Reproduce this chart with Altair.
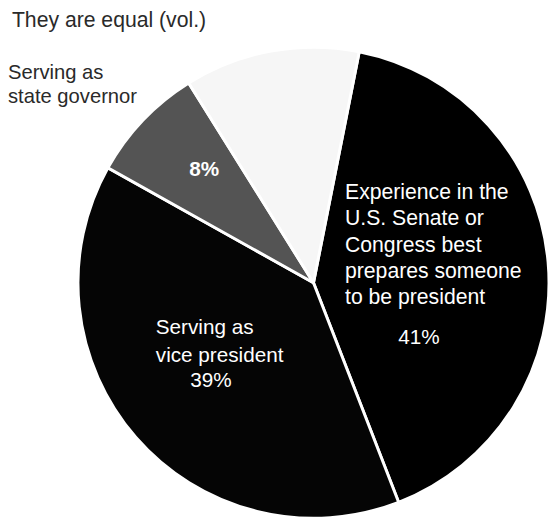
import altair as alt
import pandas as pd
import math

# Data
categories = [
    "Experience in the U.S. Senate or Congress",
    "Serving as vice president",
    "Serving as state governor",
    "They are equal (vol.)",
]
percents = [41, 39, 8, 12]
order = [0, 1, 2, 3]
colors = ["#000000", "#050505", "#545454", "#f6f6f6"]

df = pd.DataFrame({"category": categories, "pct": percents, "order": order})

start = math.radians(11.2)
CX, CY, R = 310, 275, 239
FONT = "Liberation Sans"

pie = alt.Chart(df).mark_arc(
    outerRadius=R, stroke="white", strokeWidth=3
).encode(
    theta=alt.Theta("pct:Q", stack=True, scale=alt.Scale(range=[start, start + 2 * math.pi])),
    order=alt.Order("order:Q"),
    color=alt.Color("category:N", scale=alt.Scale(domain=categories, range=colors), legend=None),
    x=alt.value(CX),
    y=alt.value(CY),
)

one = pd.DataFrame({"a": [0]})


def label(text, x, y, color, size, align="left", weight="normal", line_height=None):
    kw = dict(align=align, baseline="alphabetic", font=FONT, fontSize=size,
              color=color, fontWeight=weight, text=text)
    if line_height is not None:
        kw["lineHeight"] = line_height
    return alt.Chart(one).mark_text(**kw).encode(x=alt.value(x), y=alt.value(y))


layers = [
    pie,
    label("They are equal (vol.)", 4, 15, "#2a2a2a", 21.5),
    label(["Serving as", "state governor"], 0, 68, "#2a2a2a", 20.5, line_height=24.5),
    label(f"{percents[2]}%", 199, 167, "white", 21, align="center", weight="bold"),
    label(["Experience in the", "U.S. Senate or", "Congress best",
           "prepares someone", "to be president"], 342, 190, "white", 21.5, line_height=26.7),
    label(f"{percents[0]}%", 417, 337, "white", 21, align="center"),
    label(["Serving as", "vice president"], 150, 327, "white", 21, line_height=28),
    label(f"{percents[1]}%", 206, 381, "white", 21, align="center"),
]

chart = alt.layer(*layers).properties(
    width=549, height=512, autosize=alt.AutoSizeParams(type="none"), padding=0
).configure_view(stroke=None)

chart.save("out.html", embed_options={"renderer": "svg", "actions": False})
